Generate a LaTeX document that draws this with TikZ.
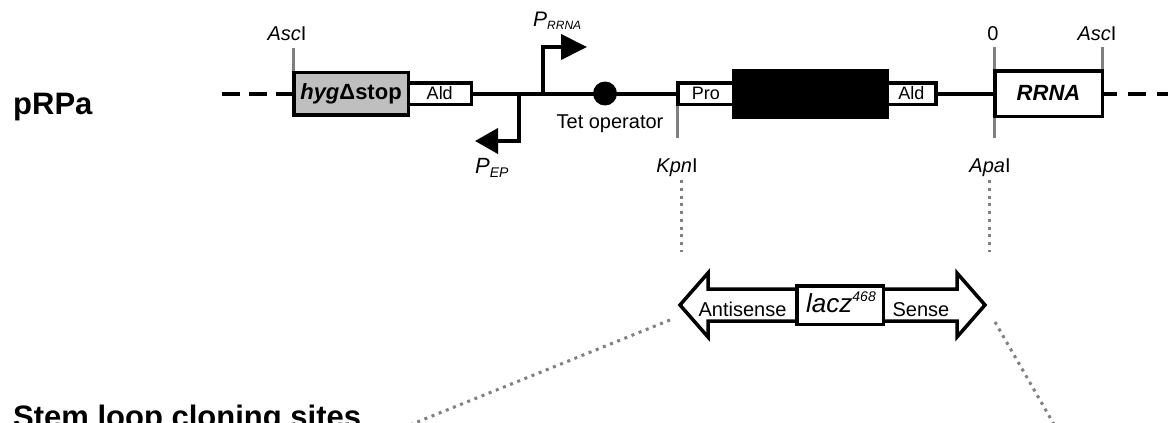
\documentclass[tikz,border=0pt]{standalone}
\usepackage{fontspec}
\setmainfont{Liberation Sans}
\usetikzlibrary{positioning,arrows.meta}

\newcommand{\sz}[1]{\fontsize{#1}{#1}\selectfont}

\begin{document}
\begin{tikzpicture}[x=1pt,y=-1pt]
  \useasboundingbox (0,0) rectangle (1168,423);
  % plasmid boxes
  \begin{scope}[every node/.style={draw=black,line width=3.5pt,outer sep=0pt,inner sep=0pt}]
    \node[fill=gray!50,minimum width=114.5pt,minimum height=42.5pt,font=\sz{22}\bfseries] (hyg) at (351,93.5) {\textit{hyg}Δstop};
    \node[minimum width=63pt,minimum height=21.5pt,font=\sz{18},right=0pt of hyg] (ald1) {Ald};
    \node[minimum width=56pt,minimum height=21.5pt,font=\sz{18},anchor=west] (pro) at (677.75,93.5) {Pro};
    \node[fill=black,minimum width=153pt,minimum height=46.5pt,right=0pt of pro] (blk) {};
    \node[minimum width=49pt,minimum height=21.5pt,font=\sz{18},right=0pt of blk] (ald2) {Ald};
    \node[minimum width=107.5pt,minimum height=45.5pt,font=\sz{22}\bfseries\itshape] (rrna) at (1048.5,93.5) {\raisebox{2pt}{RRNA}};
    \node[circle,draw=none,fill=black,minimum size=24pt] (tet) at (605,93.5) {};
  \end{scope}
  % labels
  \begin{scope}[every node/.style={inner sep=0pt,font=\sz{20},anchor=base}]
    \node (asc1) at (287,40) {\textit{Asc}I};
    \node (zero) at (993,40) {0};
    \node (asc2) at (1097,40) {\textit{Asc}I};
    \node (kpn) at (677,172) {\textit{Kpn}I};
    \node (apa) at (990,172) {\textit{Apa}I};
    \node (tetlbl) at (610,128) {Tet operator};
    \node[anchor=base west,font=\sz{21}] (prrlbl) at (533,27) {\textit{P}\raisebox{-2pt}{\sz{12}\textit{RRNA}}};
    \node[anchor=base west,font=\sz{22}] (peplbl) at (475,173) {\textit{P}\raisebox{-4pt}{\sz{14}\textit{EP}}};
    \node[anchor=base west,font=\sz{31}\bfseries] (prpa) at (13,114) {pRPa};
    \node[anchor=base west,font=\sz{31}\bfseries] (stem) at (13,427) {Stem loop cloning sites};
  \end{scope}
  % restriction sites
  \coordinate (asc1tick) at (293.75,48);
  \coordinate (kpntick) at (677.75,138);
  \coordinate (zerotick) at (994.75,47);
  \coordinate (apatick) at (994.75,138);
  \coordinate (asc2tick) at (1102.25,47);
  \begin{scope}[every edge/.style={draw=gray,line width=3pt,shorten <=1.75pt}]
    \path (hyg.north west) edge (asc1tick);
    \path (pro.south west) edge (kpntick);
    \path (rrna.north west) edge (zerotick);
    \path (rrna.south west) edge (apatick);
    \path (rrna.north east) edge (asc2tick);
  \end{scope}
  % backbone
  \coordinate (lend) at (222,93.5);
  \coordinate (rend) at (1168,93.5);
  \begin{scope}[every edge/.style={draw=black,line width=4pt}]
    \path (lend) edge[dash pattern=on 18pt off 9pt] (hyg.west);
    \path (ald1.east) edge (pro.west);
    \path (ald2.east) edge (rrna.west);
    \path (rrna.east) edge[dash pattern=on 18pt off 11pt,dash phase=3pt] (rend);
  \end{scope}
  % promoters
  \coordinate (prrfoot) at (543,93.5);
  \coordinate (prrtip) at (587,47);
  \coordinate (pepfoot) at (519,93.5);
  \coordinate (peptip) at (475,141);
  \draw[line width=4pt,-{Triangle[length=26pt,width=25pt]}] (prrfoot) |- (prrtip);
  \draw[line width=4pt,-{Triangle[length=23pt,width=25pt]}] (pepfoot) |- (peptip);
  % insert
  \draw[line width=3.5pt,fill=white] (680,305) -- (708,273) -- (708,289) -- (957,289) -- (957,273) -- (985,305)
    -- (957,337) -- (957,321) -- (708,321) -- (708,337) -- cycle;
  \node[draw=black,line width=3.5pt,fill=white,minimum width=86.5pt,minimum height=38.5pt] (laczbox) at (840,305) {};
  \node[inner sep=0pt,anchor=base west,font=\sz{26}] (lacz) at (806,312) {\textit{lacz}\raisebox{11pt}{\sz{14}\textit{468}}};
  \node[inner sep=0pt,anchor=base,font=\sz{20}] (anti) at (742.5,316) {Antisense};
  \node[inner sep=0pt,anchor=base,font=\sz{20}] (sense) at (921,316) {Sense};
  % dotted guides
  \coordinate (kpnlow) at (681,252);
  \coordinate (apalow) at (989,252);
  \coordinate (antistart) at (670,320);
  \coordinate (antiend) at (380,437);
  \coordinate (sensestart) at (995,322);
  \coordinate (senseend) at (1063,440);
  \begin{scope}[every edge/.style={draw=gray,line width=3pt,dash pattern=on 3pt off 4.7pt}]
    \path (kpn.south -| kpnlow) edge[shorten <=4pt] (kpnlow);
    \path (apa.south -| apalow) edge[shorten <=4pt] (apalow);
    \path (antistart) edge (antiend);
    \path (sensestart) edge (senseend);
  \end{scope}
\end{tikzpicture}
\end{document}
